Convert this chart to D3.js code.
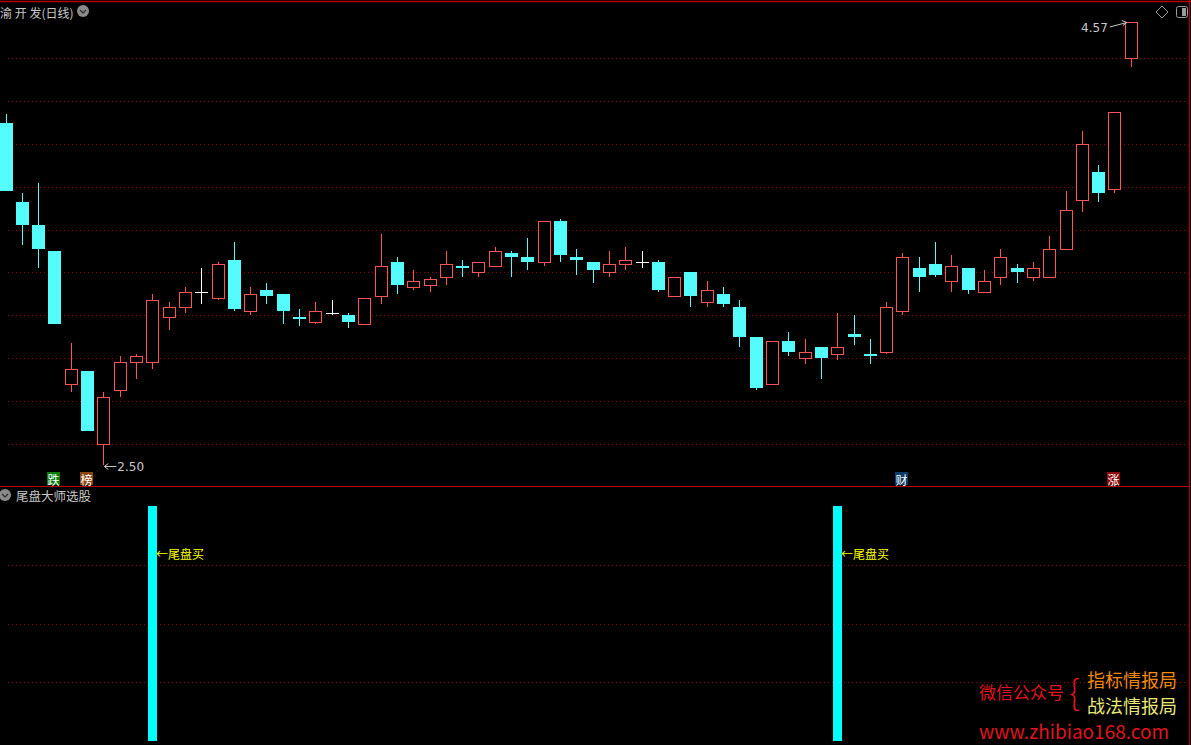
<!DOCTYPE html>
<html>
<head>
<meta charset="utf-8">
<script src="https://cdn.jsdelivr.net/npm/d3@7"></script>
<style>
html,body{margin:0;padding:0;background:#000;overflow:hidden;}
svg{display:block;}
text{font-family:"Noto Sans CJK SC","DejaVu Sans",sans-serif;}
</style>
</head>
<body>
<svg id="chart" width="1191" height="745"></svg>
<script>
// ---- data ----
const opens  = [4.10,3.73,3.62,3.50,2.88,2.94,2.60,2.85,2.98,2.98,3.19,3.24,3.31,3.28,3.46,3.22,3.32,3.30,3.19,3.17,
                3.21,3.20,3.16,3.29,3.45,3.33,3.34,3.38,3.43,3.40,3.43,3.49,3.47,3.45,3.64,3.47,3.45,3.40,3.44,3.45,
                3.45,3.29,3.40,3.26,3.30,3.24,3.10,2.88,3.08,3.00,3.05,3.02,3.11,3.02,3.03,3.22,3.42,3.44,3.36,3.42,
                3.31,3.38,3.42,3.38,3.38,3.51,3.74,3.87,3.79,4.40];
const highs  = [4.14,3.77,3.82,3.50,3.07,2.94,2.84,3.01,3.02,3.30,3.26,3.33,3.42,3.45,3.54,3.33,3.35,3.30,3.23,3.26,
                3.27,3.21,3.28,3.58,3.47,3.41,3.38,3.50,3.46,3.45,3.52,3.50,3.56,3.64,3.65,3.51,3.45,3.50,3.52,3.50,
                3.46,3.38,3.40,3.36,3.33,3.27,3.10,3.08,3.12,3.09,3.05,3.21,3.20,3.09,3.26,3.49,3.47,3.54,3.48,3.42,
                3.41,3.51,3.44,3.45,3.57,3.78,4.06,3.90,4.15,4.57];
const lows   = [3.78,3.53,3.42,3.16,2.84,2.66,2.50,2.82,2.90,2.95,3.13,3.21,3.25,3.27,3.22,3.20,3.25,3.16,3.15,3.16,
                3.20,3.14,3.16,3.25,3.30,3.32,3.31,3.34,3.38,3.38,3.43,3.38,3.41,3.43,3.45,3.39,3.35,3.38,3.41,3.42,
                3.31,3.29,3.24,3.24,3.24,3.05,2.85,2.88,3.01,2.97,2.90,2.99,3.06,2.97,3.02,3.20,3.31,3.38,3.31,3.30,
                3.31,3.34,3.35,3.36,3.38,3.51,3.68,3.73,3.77,4.36];
const closes = [3.78,3.62,3.51,3.16,2.95,2.66,2.82,2.98,3.01,3.27,3.24,3.31,3.31,3.44,3.23,3.30,3.29,3.22,3.18,3.22,
                3.21,3.17,3.28,3.43,3.34,3.36,3.37,3.44,3.42,3.45,3.50,3.47,3.45,3.64,3.48,3.46,3.41,3.44,3.46,3.45,
                3.32,3.38,3.29,3.32,3.25,3.10,2.86,3.08,3.03,3.03,3.00,3.05,3.10,3.01,3.24,3.47,3.38,3.39,3.43,3.32,
                3.36,3.47,3.40,3.42,3.51,3.69,4.00,3.77,4.15,4.57];
const gridPrices = [2.60,2.80,3.00,3.20,3.40,3.60,3.80,4.00,4.20,4.40];
const signalIdx   = [3, 5, 55, 68];
const signalText  = ["跌", "榜", "财", "涨"];
const signalColor = ["#0a7d0a", "#8a4612", "#0d3c6a", "#8c0a0a"];
const buyIdx    = [9, 51];
const buyValue  = [1, 1];
const buyLabel  = "←尾盘买";
const lowerGrid = [0.25, 0.5, 0.75];
const title = "渝 开 发(日线)";
const lowerTitle = "尾盘大师选股";
const maxLabel = "4.57", minLabel = "2.50";

// ---- scales ----
const svg = d3.select("#chart");
const n = opens.length;
const x = d3.scaleLinear().domain([0, n - 1]).range([5.5, 1130.8]);
const y = d3.scaleLinear().domain([2.50, 4.57]).range([465, 22]);
const y2 = d3.scaleLinear().domain([0, 1]).range([741, 506]);
const bodyW = 13;

const RED = "#ff5454", CYAN = "#54fcfc", WHITE = "#ffffff";
const GRID = "#8a0000", BORDER = "#b40000";

svg.append("rect").attr("width", 1191).attr("height", 745).attr("fill", "#000");

// grid lines
svg.append("g").attr("shape-rendering", "crispEdges").selectAll("line").data(gridPrices).join("line")
  .attr("x1", 8).attr("x2", 1188)
  .attr("y1", d => Math.round(y(d)) + 0.5).attr("y2", d => Math.round(y(d)) + 0.5)
  .attr("stroke", GRID).attr("stroke-width", 1).attr("stroke-dasharray", "1,3");
svg.append("g").attr("shape-rendering", "crispEdges").selectAll("line").data(lowerGrid).join("line")
  .attr("x1", 8).attr("x2", 1188)
  .attr("y1", d => Math.round(y2(d)) + 0.5).attr("y2", d => Math.round(y2(d)) + 0.5)
  .attr("stroke", GRID).attr("stroke-width", 1).attr("stroke-dasharray", "1,3");

// borders
svg.append("line").attr("x1", 0).attr("x2", 1191).attr("y1", 1.5).attr("y2", 1.5).attr("stroke", BORDER).attr("stroke-width", 1.5);
svg.append("line").attr("x1", 0).attr("x2", 1189).attr("y1", 486.5).attr("y2", 486.5).attr("stroke", BORDER).attr("stroke-width", 1.2);
svg.append("line").attr("x1", 1189.5).attr("x2", 1189.5).attr("y1", 0).attr("y2", 745).attr("stroke", BORDER).attr("stroke-width", 1.2);

// candles
const idx = d3.range(n);
const g = svg.append("g").attr("shape-rendering", "crispEdges");
const px = v => Math.round(v) + 0.5;
idx.forEach(i => {
  const o = opens[i], c = closes[i], h = highs[i], l = lows[i];
  const cx = Math.round(x(i));
  const top = y(Math.max(o, c)), bot = y(Math.min(o, c));
  const left = cx - Math.floor(bodyW / 2);
  if (c > o) {
    if (y(h) < top) g.append("line").attr("x1", cx + 0.5).attr("x2", cx + 0.5).attr("y1", y(h)).attr("y2", px(top)).attr("stroke", RED);
    if (y(l) > bot) g.append("line").attr("x1", cx + 0.5).attr("x2", cx + 0.5).attr("y1", px(bot)).attr("y2", y(l)).attr("stroke", RED);
    g.append("rect").attr("x", left + 0.5).attr("y", px(top)).attr("width", bodyW - 1)
      .attr("height", Math.max(1, Math.round(bot) - Math.round(top))).attr("fill", "#000").attr("stroke", RED).attr("stroke-width", 1.3);
  } else if (c < o) {
    g.append("line").attr("x1", cx + 0.5).attr("x2", cx + 0.5).attr("y1", y(h)).attr("y2", y(l)).attr("stroke", CYAN);
    g.append("rect").attr("x", left).attr("y", Math.round(top)).attr("width", bodyW)
      .attr("height", Math.max(2, Math.round(bot) - Math.round(top))).attr("fill", CYAN);
  } else {
    g.append("line").attr("x1", cx + 0.5).attr("x2", cx + 0.5).attr("y1", y(h)).attr("y2", y(l)).attr("stroke", WHITE);
    g.append("line").attr("x1", left).attr("x2", left + bodyW).attr("y1", px(top)).attr("y2", px(top)).attr("stroke", WHITE).attr("stroke-width", 1.5);
  }
});

// max / min labels
const iMax = d3.maxIndex(highs), iMin = d3.minIndex(lows);
const TXT = "#c8c8c8";
{
  const ax = x(iMax), ay = y(highs[iMax]);
  svg.append("line").attr("x1", ax - 21).attr("y1", ay + 5).attr("x2", ax - 4).attr("y2", ay + 0.5).attr("stroke", TXT).attr("stroke-width", 1);
  svg.append("path").attr("d", `M${ax - 4},${ay + 0.5} l-5,-2 M${ax - 4},${ay + 0.5} l-4,3`).attr("stroke", TXT).attr("fill", "none");
  svg.append("text").attr("x", ax - 23).attr("y", ay + 6).attr("text-anchor", "end")
    .attr("dominant-baseline", "middle").attr("fill", TXT).style("font-size", "12px").style("font-family", "'DejaVu Sans'").text(maxLabel);
}
{
  const ax = x(iMin), ay = y(lows[iMin]);
  svg.append("line").attr("x1", ax + 1).attr("y1", ay + 1.5).attr("x2", ax + 13).attr("y2", ay + 1.5).attr("stroke", TXT);
  svg.append("path").attr("d", `M${ax + 1},${ay + 1.5} l4,-3 M${ax + 1},${ay + 1.5} l4,3`).attr("stroke", TXT).attr("fill", "none");
  svg.append("text").attr("x", ax + 14).attr("y", ay + 2).attr("dominant-baseline", "middle")
    .attr("fill", TXT).style("font-size", "12px").style("font-family", "'DejaVu Sans'").text(minLabel);
}

// signal markers
const sg = svg.append("g");
signalIdx.forEach((i, k) => {
  const cx = Math.round(x(i));
  sg.append("rect").attr("x", cx - 7).attr("y", 472).attr("width", 13).attr("height", 13).attr("fill", signalColor[k]);
  sg.append("text").attr("x", cx - 0.5).attr("y", 479).attr("text-anchor", "middle").attr("dominant-baseline", "central")
    .attr("fill", "#fff").style("font-size", "12px").text(signalText[k]);
});

// titles
svg.append("text").attr("x", 0).attr("y", 12).attr("dominant-baseline", "central").attr("fill", TXT)
  .style("font-size", "12px").text(title);
function chevron(cx, cy) {
  svg.append("circle").attr("cx", cx).attr("cy", cy).attr("r", 6).attr("fill", "#8a8a8a");
  svg.append("path").attr("d", `M${cx - 3},${cy - 1} L${cx},${cy + 2} L${cx + 3},${cy - 1}`).attr("stroke", "#303030").attr("stroke-width", 1.3).attr("fill", "none");
}
chevron(83, 11);
chevron(5, 495);
svg.append("text").attr("x", 16).attr("y", 495).attr("dominant-baseline", "central").attr("fill", TXT)
  .style("font-size", "12.5px").text(lowerTitle);

// top-right icons
svg.append("path").attr("d", "M1162,6 L1168,12 L1162,18 L1156,12 Z").attr("fill", "none").attr("stroke", "#9a9a9a");
svg.append("rect").attr("x", 1176.5).attr("y", 6.5).attr("width", 11).attr("height", 11).attr("rx", 2).attr("fill", "none").attr("stroke", "#9a9a9a");
svg.append("rect").attr("x", 1182).attr("y", 8).attr("width", 4).attr("height", 8).attr("fill", "#9a9a9a");

// lower panel bars
const bg = svg.append("g").attr("shape-rendering", "crispEdges");
buyIdx.forEach((i, k) => {
  const cx = Math.round(x(i));
  bg.append("rect").attr("x", cx - 4).attr("y", y2(buyValue[k])).attr("width", 9)
    .attr("height", y2(0) - y2(buyValue[k])).attr("fill", "#00ffff");
  svg.append("text").attr("x", cx + 4).attr("y", y2(0.8)).attr("dominant-baseline", "central")
    .attr("fill", "#ffff00").style("font-size", "12px").text(buyLabel);
});

// watermark
svg.append("text").attr("x", 979).attr("y", 691).attr("dominant-baseline", "central").attr("fill", "#e0141e")
  .style("font-size", "17px").text("微信公众号");
svg.append("text").attr("x", 1069).attr("y", 690).attr("dominant-baseline", "central").attr("fill", "#e0141e")
  .style("font-size", "34px").style("font-weight", "200").text("{");
svg.append("text").attr("x", 1087).attr("y", 679).attr("dominant-baseline", "central").attr("fill", "#f08a10")
  .style("font-size", "18px").text("指标情报局");
svg.append("text").attr("x", 1087).attr("y", 705).attr("dominant-baseline", "central").attr("fill", "#e8e878")
  .style("font-size", "18px").text("战法情报局");
svg.append("text").attr("x", 979).attr("y", 730).attr("dominant-baseline", "central").attr("fill", "#e0141e")
  .style("font-size", "19px").text("www.zhibiao168.com");
</script>
</body>
</html>
